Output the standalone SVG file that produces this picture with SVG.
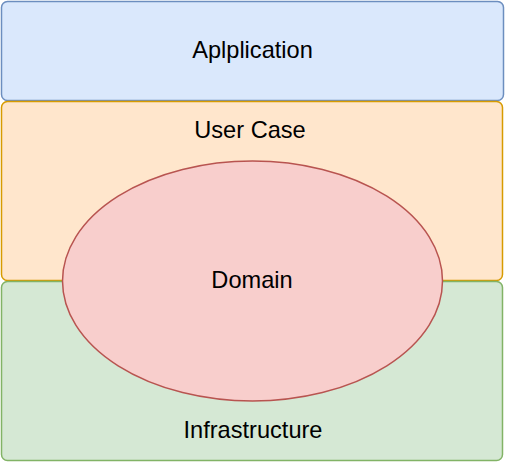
<svg xmlns="http://www.w3.org/2000/svg" width="506" height="462" viewBox="0 0 506 462">
<style>
text{font-family:"Liberation Sans",Arial,sans-serif;font-size:23.6px;fill:#000;text-anchor:middle;dominant-baseline:central}
.box{stroke-width:1.5}
</style>
<rect width="506" height="462" fill="#ffffff"/>
<g id="application"><rect class="box" x="1.5" y="1.5" width="502" height="99" rx="6" fill="#dae8fc" stroke="#6c8ebf"/><text x="252.5" y="49.5">Aplplication</text></g>
<g id="usercase"><rect class="box" x="1.5" y="101.5" width="501" height="179" rx="6" fill="#ffe6cc" stroke="#d79b00"/><text x="250" y="129.5">User Case</text></g>
<g id="infrastructure"><rect class="box" x="1.5" y="281.5" width="501" height="179" rx="6" fill="#d5e8d4" stroke="#82b366"/><text x="253" y="429.5">Infrastructure</text></g>
<g id="domain"><ellipse class="box" cx="252.5" cy="281" rx="190" ry="120" fill="#f8cecc" stroke="#b85450"/><text x="252" y="279.5">Domain</text></g>
<g id="connectors"/>
</svg>
